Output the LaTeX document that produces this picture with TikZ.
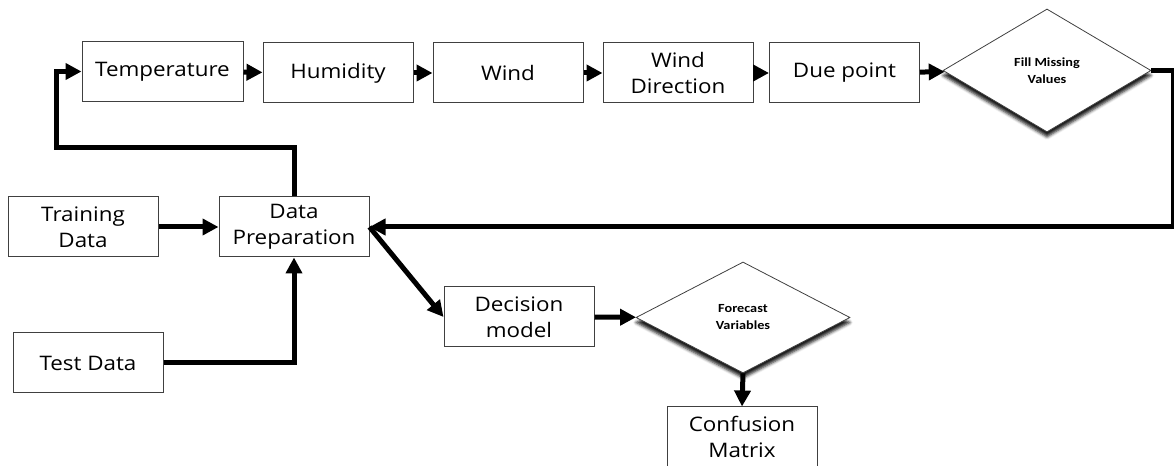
\documentclass[tikz,border=0pt]{standalone}
\usepackage{fontspec}
\setmainfont[FakeStretch=1.12]{Open Sans}
\newfontfamily\diafont[FakeStretch=1.15]{Carlito}
\usetikzlibrary{shapes.geometric,arrows.meta,shadows.blur}

\tikzset{
  stepbox/.style={draw=black!75, line width=0.5pt, minimum width=75pt, minimum height=30pt,
    align=center, inner sep=1pt, font=\fontsize{10}{13}\selectfont},
  choice/.style={diamond, draw=black!75, line width=0.4pt, fill=white, inner sep=0pt,
    align=center, font=\diafont\bfseries\fontsize{6.2}{8.5}\selectfont,
    blur shadow={shadow xshift=0pt, shadow yshift=-2.5pt, shadow blur radius=1.5pt,
      shadow opacity=90}},
  flow/.style={line width=2.5pt, -{Triangle[length=8pt,width=8pt]}}
}

\begin{document}
\begin{tikzpicture}[x=0.5pt,y=0.5pt]
			\useasboundingbox (0,0) rectangle (1174,466);
			\node[stepbox, minimum width=80.5pt] (temp) at (162.5,394.5) {Temperature};
			\node[stepbox] (humid) at (338,393) {Humidity};
			\node[stepbox] (wind) at (508,393) {Wind};
			\node[stepbox] (winddir) at (678,393) {Wind\\Direction};
			\node[stepbox] (due) at (844.5,393) {Due point};
			\node[choice, minimum width=104pt, minimum height=61.5pt] (fill) at (1047,395.5) {Fill Missing\\Values};
			\node[stepbox] (train) at (83,239) {Training\\Data};
			\node[stepbox] (prep) at (294,239) {Data\\Preparation};
			\node[stepbox] (test) at (88,103) {Test Data};
			\node[stepbox] (decision) at (519,149) {Decision\\model};
			\node[choice, minimum width=107pt, minimum height=55.5pt] (forecast) at (743,148.5) {Forecast\\Variables};
			\node[stepbox] (confusion) at (742,29) {Confusion\\Matrix};
			\coordinate (bend) at (56,318);
			\draw[flow] (temp) -- (humid);
			\draw[flow] (humid) -- (wind);
			\draw[flow] (wind) -- (winddir);
			\draw[flow] (winddir) -- (due);
			\draw[flow] (due) -- (fill);
			\draw[flow] (fill.east) -- ++(22,0) |- (prep.east);
			\draw[flow] (prep.north) |- (bend) |- (temp.west);
			\draw[flow] (train) -- (prep);
			\draw[flow] (test.east) -| (prep.south);
			\draw[flow] (prep.east) -- (decision.west);
			\draw[flow] (decision) -- (forecast);
			\draw[flow] (forecast.south) -- (confusion.north);
		\end{tikzpicture}
\end{document}
